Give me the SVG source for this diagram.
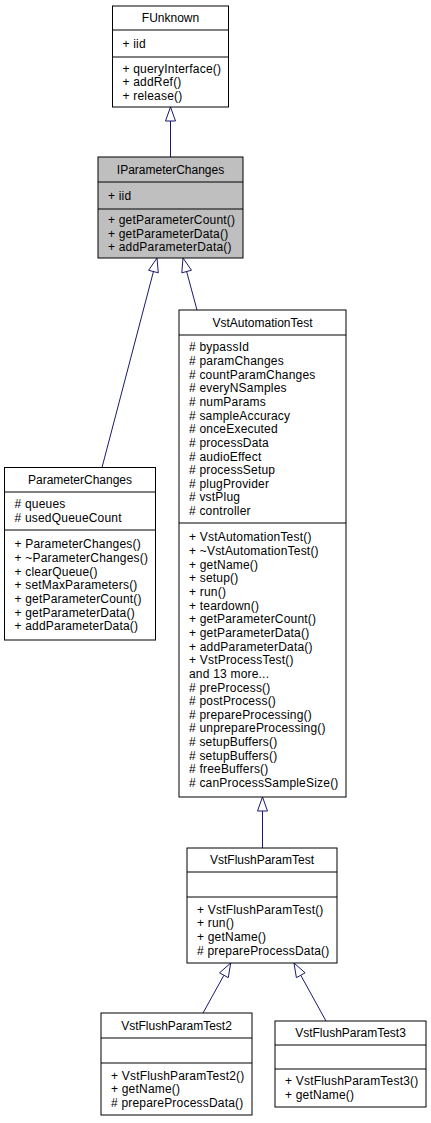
<svg xmlns="http://www.w3.org/2000/svg" width="431" height="1123" viewBox="0 0 431 1123">
<style>
.box{fill:#ffffff;stroke:#000000;stroke-width:1}
.hl{fill:#bfbfbf;stroke:#000000;stroke-width:1}
.sep{stroke:#000000;stroke-width:1}
text{font-family:"Liberation Sans",Arial,Helvetica,sans-serif;font-size:12px;fill:#000000;letter-spacing:0.2px}
.t{text-anchor:middle;letter-spacing:0}
.edge{stroke:#191970;stroke-width:1;fill:none}
.head{stroke:#191970;stroke-width:1;fill:#ffffff}
</style>
<rect width="431" height="1123" fill="#ffffff"/>
<g id="connectors">
<line class="edge" x1="170.5" y1="121" x2="170.5" y2="157"/>
<polygon class="head" points="170.5,107 165.5,121 175.5,121"/>
<line class="edge" x1="153.45" y1="271.54" x2="102" y2="467.5"/>
<polygon class="head" points="157,258 158.29,272.81 148.61,270.27"/>
<line class="edge" x1="186.64" y1="271.52" x2="197" y2="310"/>
<polygon class="head" points="183,258 191.47,270.22 181.81,272.82"/>
<line class="edge" x1="262.5" y1="811" x2="262.5" y2="848"/>
<polygon class="head" points="262.5,797 257.5,811 267.5,811"/>
<line class="edge" x1="223.92" y1="975.25" x2="203" y2="1013"/>
<polygon class="head" points="230.7,963 228.29,977.67 219.55,972.83"/>
<line class="edge" x1="300.76" y1="975.26" x2="326" y2="1021"/>
<polygon class="head" points="294,963 305.14,972.84 296.38,977.68"/>
</g>
<g id="FUnknown">
<rect class="box" x="112.5" y="6" width="116" height="101"/>
<line class="sep" x1="112.5" y1="30" x2="228.5" y2="30"/>
<line class="sep" x1="112.5" y1="57" x2="228.5" y2="57"/>
<text class="t" x="170.5" y="22.2">FUnknown</text>
<text x="122.5" y="47.7">+ iid</text>
<text x="122.5" y="72.55">+ queryInterface()</text>
<text x="122.5" y="86.2">+ addRef()</text>
<text x="122.5" y="99.85">+ release()</text>
</g>
<g id="IParameterChanges">
<rect class="hl" x="98" y="157" width="145" height="101"/>
<line class="sep" x1="98" y1="182" x2="243" y2="182"/>
<line class="sep" x1="98" y1="209" x2="243" y2="209"/>
<text class="t" x="170.5" y="173.7">IParameterChanges</text>
<text x="108" y="199.7">+ iid</text>
<text x="108" y="224.05">+ getParameterCount()</text>
<text x="108" y="237.7">+ getParameterData()</text>
<text x="108" y="251.35">+ addParameterData()</text>
</g>
<g id="ParameterChanges">
<rect class="box" x="4.5" y="467.5" width="151" height="172.5"/>
<line class="sep" x1="4.5" y1="492" x2="155.5" y2="492"/>
<line class="sep" x1="4.5" y1="530" x2="155.5" y2="530"/>
<text class="t" x="80" y="483.95">ParameterChanges</text>
<text x="14.5" y="508.4"># queues</text>
<text x="14.5" y="522"># usedQueueCount</text>
<text x="14.5" y="548.25">+ ParameterChanges()</text>
<text x="14.5" y="561.9">+ ~ParameterChanges()</text>
<text x="14.5" y="575.55">+ clearQueue()</text>
<text x="14.5" y="589.2">+ setMaxParameters()</text>
<text x="14.5" y="602.85">+ getParameterCount()</text>
<text x="14.5" y="616.5">+ getParameterData()</text>
<text x="14.5" y="630.15">+ addParameterData()</text>
</g>
<g id="VstAutomationTest">
<rect class="box" x="179" y="310" width="167" height="487"/>
<line class="sep" x1="179" y1="335" x2="346" y2="335"/>
<line class="sep" x1="179" y1="523" x2="346" y2="523"/>
<text class="t" x="262.5" y="326.7">VstAutomationTest</text>
<text x="189" y="351.3"># bypassId</text>
<text x="189" y="364.95"># paramChanges</text>
<text x="189" y="378.6"># countParamChanges</text>
<text x="189" y="392.25"># everyNSamples</text>
<text x="189" y="405.9"># numParams</text>
<text x="189" y="419.55"># sampleAccuracy</text>
<text x="189" y="433.2"># onceExecuted</text>
<text x="189" y="446.85"># processData</text>
<text x="189" y="460.5"># audioEffect</text>
<text x="189" y="474.15"># processSetup</text>
<text x="189" y="487.8"># plugProvider</text>
<text x="189" y="501.45"># vstPlug</text>
<text x="189" y="515.1"># controller</text>
<text x="189" y="541.35">+ VstAutomationTest()</text>
<text x="189" y="555">+ ~VstAutomationTest()</text>
<text x="189" y="568.65">+ getName()</text>
<text x="189" y="582.3">+ setup()</text>
<text x="189" y="595.95">+ run()</text>
<text x="189" y="609.6">+ teardown()</text>
<text x="189" y="623.25">+ getParameterCount()</text>
<text x="189" y="636.9">+ getParameterData()</text>
<text x="189" y="650.55">+ addParameterData()</text>
<text x="189" y="664.2">+ VstProcessTest()</text>
<text x="189" y="677.85">and 13 more...</text>
<text x="189" y="691.5"># preProcess()</text>
<text x="189" y="705.15"># postProcess()</text>
<text x="189" y="718.8"># prepareProcessing()</text>
<text x="189" y="732.45"># unprepareProcessing()</text>
<text x="189" y="746.1"># setupBuffers()</text>
<text x="189" y="759.75"># setupBuffers()</text>
<text x="189" y="773.4"># freeBuffers()</text>
<text x="189" y="787.05"># canProcessSampleSize()</text>
</g>
<g id="VstFlushParamTest">
<rect class="box" x="187" y="848" width="150" height="115"/>
<line class="sep" x1="187" y1="872" x2="337" y2="872"/>
<line class="sep" x1="187" y1="897" x2="337" y2="897"/>
<text class="t" x="262" y="864.2">VstFlushParamTest</text>
<text x="197" y="913.7">+ VstFlushParamTest()</text>
<text x="197" y="927.4">+ run()</text>
<text x="197" y="941">+ getName()</text>
<text x="197" y="954.7"># prepareProcessData()</text>
</g>
<g id="VstFlushParamTest2">
<rect class="box" x="101" y="1013" width="151" height="102"/>
<line class="sep" x1="101" y1="1038" x2="252" y2="1038"/>
<line class="sep" x1="101" y1="1063" x2="252" y2="1063"/>
<text class="t" x="176.5" y="1029.7">VstFlushParamTest2</text>
<text x="111" y="1079.55">+ VstFlushParamTest2()</text>
<text x="111" y="1093.2">+ getName()</text>
<text x="111" y="1106.85"># prepareProcessData()</text>
</g>
<g id="VstFlushParamTest3">
<rect class="box" x="275" y="1021" width="151" height="86"/>
<line class="sep" x1="275" y1="1045" x2="426" y2="1045"/>
<line class="sep" x1="275" y1="1069" x2="426" y2="1069"/>
<text class="t" x="350.5" y="1037.2">VstFlushParamTest3</text>
<text x="285" y="1085.4">+ VstFlushParamTest3()</text>
<text x="285" y="1099">+ getName()</text>
</g>
</svg>
